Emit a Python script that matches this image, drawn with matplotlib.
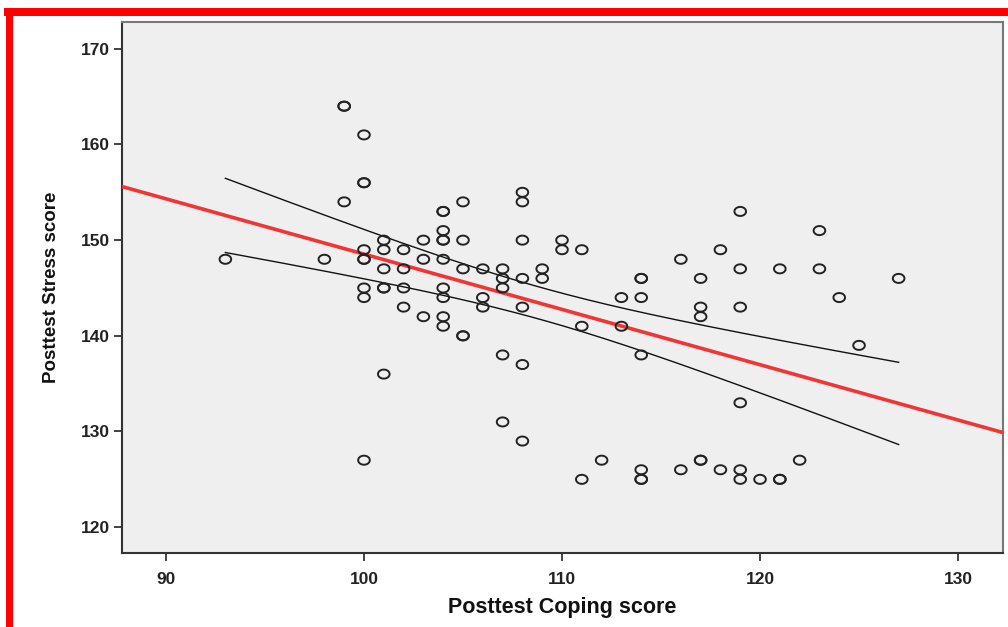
import numpy as np
import matplotlib
matplotlib.use("Agg")
import matplotlib.pyplot as plt
from matplotlib.patches import Rectangle
from matplotlib.path import Path

# ---- data (Posttest Coping score, Posttest Stress score) ----
coping = [93, 98, 99, 99, 99,
          100, 100, 100, 100, 100, 100, 100, 100, 100,
          101, 101, 101, 101, 101, 101,
          102, 102, 102, 102,
          103, 103, 103,
          104, 104, 104, 104, 104, 104, 104, 104, 104, 104,
          105, 105, 105, 105, 105,
          106, 106, 106,
          107, 107, 107, 107, 107,
          108, 108, 108, 108, 108, 108, 108,
          109, 109, 110, 110,
          111, 111, 111, 112, 113, 113,
          114, 114, 114, 114, 114, 114, 114,
          116, 116,
          117, 117, 117, 117, 117,
          118, 118,
          119, 119, 119, 119, 119, 119,
          120, 121, 121, 121, 122, 123, 123, 124, 125, 127]
stress = [148, 148, 164, 164, 154,
          161, 156, 156, 149, 148, 148, 145, 144, 127,
          150, 149, 147, 145, 145, 136,
          149, 147, 145, 143,
          150, 148, 142,
          153, 153, 151, 150, 150, 148, 145, 144, 142, 141,
          154, 150, 147, 140, 140,
          147, 144, 143,
          147, 146, 145, 138, 131,
          155, 154, 150, 146, 143, 137, 129,
          147, 146, 150, 149,
          149, 141, 125, 127, 144, 141,
          146, 146, 144, 138, 126, 125, 125,
          148, 126,
          146, 143, 142, 127, 127,
          149, 126,
          153, 147, 143, 133, 126, 125,
          125, 147, 125, 125, 127, 151, 147, 144, 139, 146]

# fitted line as drawn in the chart (value at x = 110, slope)
fit_at_110 = 142.76
fit_slope = -0.578

x_ticks = [90, 100, 110, 120, 130]
y_ticks = [120, 130, 140, 150, 160, 170]
x_label = "Posttest Coping score"
y_label = "Posttest Stress score"
t_crit = 1.985  # 95% two-sided t quantile for df ~ 95

plt.rcParams['font.family'] = ['Liberation Sans', 'DejaVu Sans']

cx = np.array(coping, dtype=float)
cy = np.array(stress, dtype=float)

fig = plt.figure(figsize=(10.08, 6.27), dpi=100)
fig.patch.set_facecolor('white')
W, H = 1008, 627
ax = fig.add_axes([122 / W, 1 - 553 / H, (1003 - 122) / W, (553 - 22) / H])
ax.set_facecolor('#efefef')

ax.set_xlim(87.78, 132.27)
ax.set_ylim(117.3, 172.8)

def fit(x):
    return fit_at_110 + fit_slope * (np.asarray(x) - 110)

n = len(cx)
resid = cy - fit(cx)
s = np.sqrt(np.sum(resid ** 2) / (n - 2))
xm = cx.mean()
sxx = np.sum((cx - xm) ** 2)

xr = np.linspace(*ax.get_xlim(), 200)
ax.plot(xr, fit(xr), color='#f03535', lw=2.6, zorder=3)

xc = np.linspace(cx.min(), cx.max(), 200)
se = s * np.sqrt(1 / n + (xc - xm) ** 2 / sxx)
yc = fit(xc)
ax.plot(xc, yc + t_crit * se, color='#111111', lw=1.0, zorder=2)
ax.plot(xc, yc - t_crit * se, color='#111111', lw=1.0, zorder=2)

# slightly flattened open circle marker
th = np.linspace(0, 2 * np.pi, 41)
ell = Path(np.column_stack([np.cos(th), 0.78 * np.sin(th)]), closed=True)
ax.scatter(cx, cy, s=70, marker=ell, facecolors='none', edgecolors='#222222',
           linewidths=1.4, zorder=4)

ax.set_xticks(x_ticks)
ax.set_yticks(y_ticks)
ax.tick_params(direction='out', length=6, width=1.3, color='#333333',
               labelsize=12.5, pad=3)
for lab in ax.get_xticklabels() + ax.get_yticklabels():
    lab.set_fontweight('bold')
    lab.set_color('#222222')
ax.tick_params(axis='x', pad=8)

for sp in ['left', 'bottom']:
    ax.spines[sp].set_color('#333333')
    ax.spines[sp].set_linewidth(1.5)
for sp in ['top', 'right']:
    ax.spines[sp].set_color('#777777')
    ax.spines[sp].set_linewidth(1.5)

ax.set_xlabel(x_label, fontsize=15.5, fontweight='bold', labelpad=7, color='#111111')
ax.set_ylabel(y_label, fontsize=13.5, fontweight='bold', labelpad=15, color='#111111')

# red frame
fig.patches.append(Rectangle((4 / W, 1 - 16 / H), 1, 8 / H, transform=fig.transFigure,
                             facecolor='#ff0000', edgecolor='none', zorder=10))
fig.patches.append(Rectangle((6 / W, 0), 7 / W, 1 - 8 / H, transform=fig.transFigure,
                             facecolor='#ff0000', edgecolor='none', zorder=10))

fig.savefig('out.png', dpi=100, facecolor='white')
